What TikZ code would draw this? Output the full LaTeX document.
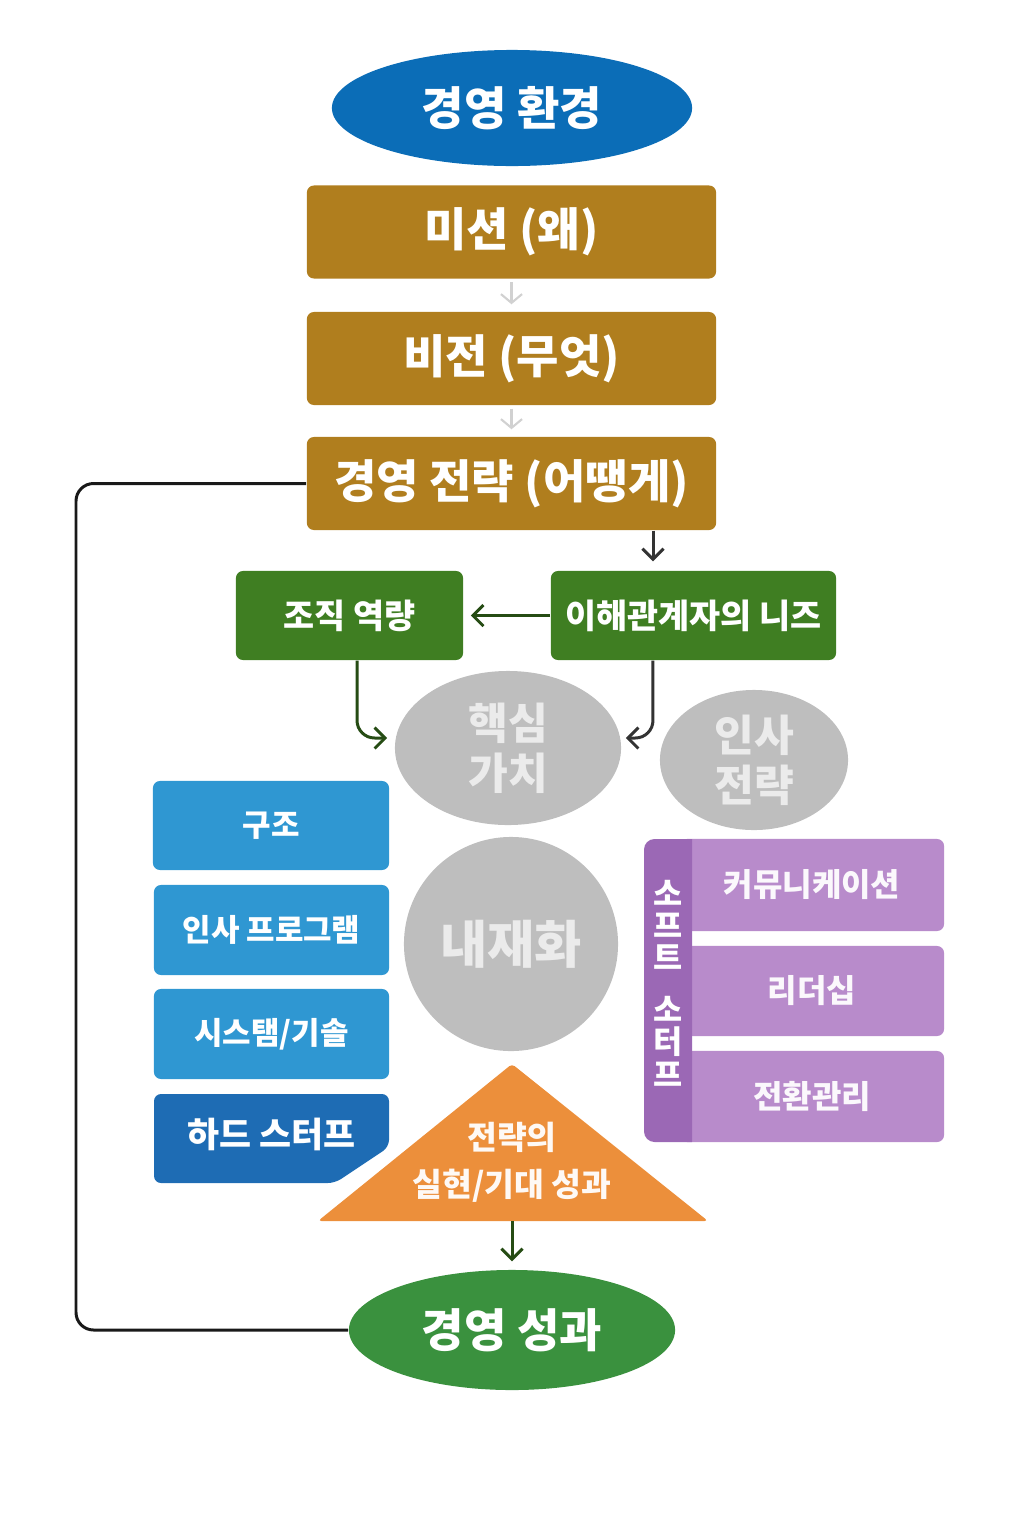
\documentclass[tikz,border=0pt]{standalone}
\usepackage{fontspec}
\setmainfont{Noto Sans CJK KR}
\usepackage{xcolor}
\definecolor{env-blue}{HTML}{0B6DB7}
\definecolor{plan-gold}{HTML}{B07E1E}
\definecolor{need-green}{HTML}{3F7E22}
\definecolor{blob-grey}{HTML}{BEBEBE}
\definecolor{blob-text}{HTML}{EBEBEB}
\definecolor{hard-blue}{HTML}{2F97D2}
\definecolor{hard-dark}{HTML}{1E6CB4}
\definecolor{soft-purple}{HTML}{B88BCB}
\definecolor{soft-dark}{HTML}{9B68B5}
\definecolor{goal-orange}{HTML}{EC8F3B}
\definecolor{result-green}{HTML}{3A913E}
\usetikzlibrary{shapes.geometric,arrows.meta}

\tikzset{
  oval/.style={ellipse, inner sep=0pt, text=white, font=\bfseries\fontsize{13.1}{15}\selectfont},
  planbox/.style={rectangle, rounded corners=2pt, fill=plan-gold, text=white, inner sep=0pt,
    minimum width=4.09cm, minimum height=0.93cm, font=\bfseries\fontsize{13.1}{15}\selectfont},
  needbox/.style={rectangle, rounded corners=2pt, fill=need-green, text=white, inner sep=0pt,
    minimum height=0.89cm, font=\bfseries\fontsize{9.6}{11}\selectfont},
  blob/.style={ellipse, inner sep=0pt, fill=blob-grey, text=blob-text, align=center,
    font=\bfseries\fontsize{12.3}{14.2}\selectfont},
  hardbox/.style={rectangle, rounded corners=2pt, fill=hard-blue, text=white, inner sep=0pt,
    minimum width=2.35cm, minimum height=0.9cm, font=\bfseries\fontsize{8.8}{10}\selectfont},
  softbox/.style={rectangle, rounded corners=2pt, fill=soft-purple, text=white!94!soft-purple, inner sep=0pt,
    minimum width=2.64cm, font=\bfseries\fontsize{9.1}{10}\selectfont},
  greyarrow/.style={draw=black!18, line width=0.6pt, -{Straight Barb[length=2.5pt,width=6pt]}},
  darkarrow/.style={draw=black!80, line width=0.85pt, rounded corners=5pt, -{Straight Barb[length=3pt,width=6pt]}},
  greenarrow/.style={draw=need-green!60!black, line width=0.85pt, rounded corners=5pt, -{Straight Barb[length=3pt,width=6pt]}},
  loopline/.style={draw=black!90, line width=0.85pt, rounded corners=5pt}
}

\begin{document}
\begin{tikzpicture}[x=0.01cm,y=-0.01cm]

  \useasboundingbox (0,0) rectangle (1024,1536);

  % Environment, mission, vision, strategy
  \node[oval, fill=env-blue, minimum width=3.6cm, minimum height=1.16cm] (env) at (512,108) {경영 환경};
  \node[planbox] (mission) at (511.5,232) {미션 (왜)};
  \node[planbox] (vision) at (511.5,358.5) {비전 (무엇)};
  \node[planbox] (strategy) at (511.5,483.5) {경영 전략 (어땡게)};

  \draw[greyarrow] ([yshift=-0.03cm]mission.south) -- ([yshift=0.07cm]vision.north);
  \draw[greyarrow] ([yshift=-0.03cm]vision.south) -- ([yshift=0.07cm]strategy.north);

  % Capability and needs
  \node[needbox, minimum width=2.27cm] (capability) at (349.5,615.5) {조직 역량};
  \node[needbox, minimum width=2.85cm] (needs) at (693.5,615.5) {이해관계자의 니즈};

  % Grey blobs
  \node[blob, minimum width=2.26cm, minimum height=1.54cm] (corevalue) at (508,748) {핵심\\가치};
  \node[blob, minimum width=1.88cm, minimum height=1.40cm] (hrstrategy) at (754,760) {인사\\전략};
  \node[blob, circle, minimum size=2.14cm, font=\bfseries\fontsize{14.6}{17}\selectfont] (internal) at (511,944) {내재화};

  \coordinate (drop) at (653,0);
  \coordinate (loopx) at (76,0);

  \draw[darkarrow] (strategy.south -| drop) -- ([yshift=0.09cm]needs.north -| drop);
  \draw[greenarrow] (needs.west) -- ([xshift=0.07cm]capability.east);
  \draw[greenarrow] ([xshift=0.075cm]capability.south) |- ([xshift=-0.07cm,yshift=0.1cm]corevalue.west);
  \draw[darkarrow] ([xshift=-0.405cm]needs.south) |- ([xshift=0.04cm,yshift=0.1cm]corevalue.east);

  % Hard stuff
  \node[hardbox, minimum width=2.36cm, minimum height=0.89cm] (structure) at (271,825.5) {구조};
  \node[hardbox] (hrprogram) at (271.5,930) {인사 프로그램};
  \node[hardbox] (system) at (271.5,1034) {시스탬/기솔};
  \fill[hard-dark, rounded corners=2pt] (154,1094) -- (389,1094) -- (389,1147) -- (335,1183) -- (154,1183) -- cycle;
  \node[text=white, font=\bfseries\fontsize{9.9}{11}\selectfont] (hardstuff) at (271.5,1134) {하드 스터프};

  % Soft stuff
  \node[softbox, minimum height=0.92cm] (comm) at (812,885) {커뮤니케이션};
  \node[softbox, minimum height=0.90cm] (leader) at (812,991) {리더십};
  \node[softbox, minimum height=0.91cm] (change) at (812,1096.5) {전환관리};
  \fill[soft-dark] (692,839) {[rounded corners=3pt] -- (644,839) -- (644,1142)} -- (692,1142) -- cycle;
  \node[text=white, align=center, font=\bfseries\fontsize{9}{9.2}\selectfont] (softstuff) at (668,983)
    {소\\프\\트\\[5.5pt]소\\터\\프};

  % Goal triangle
  \fill[goal-orange, rounded corners=1pt] (512,1064) -- (708,1221) -- (318,1221) -- cycle;
  \node[text=white!95!goal-orange, align=center, font=\bfseries\fontsize{9.2}{13.4}\selectfont] (goal) at (512,1162)
    {전략의\\실현/기대 성과};
  \coordinate (goalbase) at (512,1221);

  % Result
  \node[oval, fill=result-green, minimum width=3.26cm, minimum height=1.2cm] (result) at (512,1330) {경영 성과};

  \draw[greenarrow] (goalbase) -- ([yshift=0.08cm]result.north);
  \draw[loopline] (strategy.west) -- (strategy.west -| loopx) -- (result.west -| loopx) -- (result.west);

\end{tikzpicture}
\end{document}
